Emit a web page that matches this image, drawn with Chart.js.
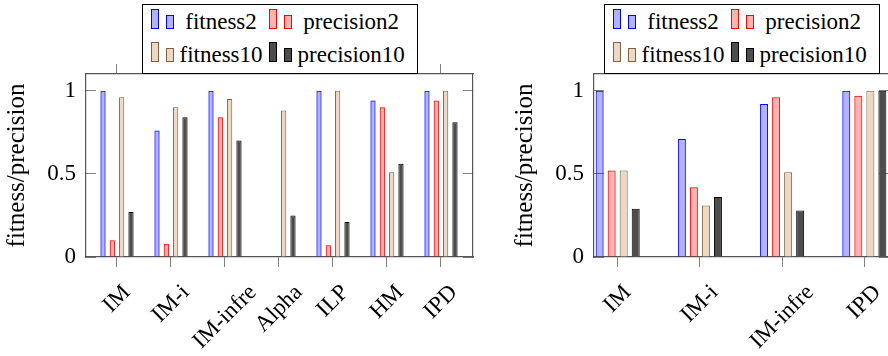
<!DOCTYPE html>
<html>
<head>
<meta charset="utf-8">
<script src="https://cdn.jsdelivr.net/npm/chart.js@4.4.1/dist/chart.umd.min.js"></script>
<style>
  html, body { margin: 0; padding: 0; background: #fff; overflow: hidden; }
  #page { position: relative; width: 888px; height: 356px; overflow: hidden; background: #fff; }
  #page canvas { position: absolute; top: 0; }
  .legend {
    position: absolute;
    display: grid;
    grid-template-columns: auto auto auto auto;
    align-items: baseline;
    column-gap: 6px;
    box-sizing: border-box;
    height: 70px;
    padding: 1.5px 12px 0 8px;
    border: 1px solid #000;
    background: #fff;
    font: 23px 'Liberation Serif', serif;
    line-height: 30px;
    color: #000;
    white-space: nowrap;
  }
  .legend .label { text-align: center; }
  .legend .swatch i {
    display: inline-block;
    width: 6px;
    border: 1px solid;
    vertical-align: baseline;
  }
  .legend .swatch i:first-child { margin-right: 7px; }
</style>
</head>
<body>
<div id="page">
  <canvas id="left" width="480" height="356" style="left:0"></canvas>
  <canvas id="right" width="412" height="356" style="left:480px"></canvas>
</div>
<script>
// left plot: all methods
const namesAll = ['IM', 'IM-i', 'IM-infre', 'Alpha', 'ILP', 'HM', 'IPD'];
const fitness2All = [1.00, 0.76, 1.00, 0.00, 1.00, 0.94, 1.00];
const precision2All = [0.10, 0.08, 0.84, 0.00, 0.07, 0.90, 0.94];
const fitness10All = [0.96, 0.90, 0.95, 0.88, 1.00, 0.51, 1.00];
const precision10All = [0.27, 0.84, 0.70, 0.25, 0.21, 0.56, 0.81];

// right plot: IM variants and IPD
const namesIM = ['IM', 'IM-i', 'IM-infre', 'IPD'];
const fitness2IM = [1.00, 0.71, 0.92, 1.00];
const precision2IM = [0.52, 0.42, 0.96, 0.97];
const fitness10IM = [0.52, 0.31, 0.51, 1.00];
const precision10IM = [0.29, 0.36, 0.28, 1.00];

const yTicks = [0, 0.5, 1];
const yTickLabels = ['0', '0.5', '1'];

Chart.defaults.font.family = "'Liberation Serif', serif";
Chart.defaults.font.size = 23;
Chart.defaults.color = '#000';

const styles = [
  { label: 'fitness2', backgroundColor: 'rgba(0, 0, 255, 0.3)', borderColor: '#0000ff' },
  { label: 'precision2', backgroundColor: 'rgba(255, 0, 0, 0.3)', borderColor: '#ff0000' },
  { label: 'fitness10', backgroundColor: '#ebd9c6', borderColor: '#7f5f3f' },
  { label: 'precision10', backgroundColor: '#4d4d4d', borderColor: '#000000' }
];

const frame = { display: true, color: '#555', width: 1.2 };
const tickGrid = (len) => ({
  offset: false, drawOnChartArea: false, drawTicks: true,
  tickLength: len, tickColor: '#808080', tickWidth: 1
});

// x labels rotated 45deg, centred under their tick like pgfplots does
function slantedLabels(names) {
  return {
    id: 'slantedLabels',
    afterDraw(chart) {
      const scale = chart.scales.x;
      const ctx = chart.ctx;
      ctx.save();
      ctx.font = "23px 'Liberation Serif', serif";
      ctx.fillStyle = '#000';
      ctx.textAlign = 'center';
      ctx.textBaseline = 'middle';
      scale.ticks.forEach(t => {
        const text = names[t.value];
        const half = ctx.measureText(text).width / 2 * Math.SQRT1_2;
        ctx.save();
        ctx.translate(scale.getPixelForValue(t.value), scale.top + 32 + half);
        ctx.rotate(-Math.PI / 4);
        ctx.fillText(text, 0, 0);
        ctx.restore();
      });
      ctx.restore();
    }
  };
}

function makeChart(id, names, series, o) {
  const indexTicks = s => { s.ticks = names.map((n, i) => ({ value: i })); };
  const valueTicks = s => { s.ticks = yTicks.map(v => ({ value: v })); };
  return new Chart(document.getElementById(id), {
    type: 'bar',
    data: {
      labels: names.map((n, i) => i),
      datasets: series.map((values, k) => ({
        ...styles[k],
        data: values,
        borderWidth: 1,
        categoryPercentage: o.catPct,
        barPercentage: o.barPct
      }))
    },
    options: {
      responsive: false,
      animation: false,
      devicePixelRatio: 1,
      layout: { padding: { top: 64, left: o.padLeft, right: o.padRight, bottom: 0 } },
      plugins: { legend: { display: false }, tooltip: { enabled: false } },
      scales: {
        x: {
          type: 'linear', position: 'bottom', min: o.xMin, max: o.xMax, offset: false,
          afterBuildTicks: indexTicks,
          ticks: { display: false },
          grid: tickGrid(10),
          border: frame,
          afterFit: s => { s.height = 99; }
        },
        xTop: {
          type: 'linear', position: 'top', min: o.xMin, max: o.xMax, offset: false,
          afterBuildTicks: indexTicks,
          ticks: { display: false },
          grid: tickGrid(10),
          border: frame,
          afterFit: s => { s.height = 10; }
        },
        y: {
          type: 'linear', position: 'left', min: 0, max: 1.1,
          afterBuildTicks: valueTicks,
          ticks: { padding: 20, color: '#000', callback: (v, i) => yTickLabels[i] },
          grid: tickGrid(-10),
          border: frame,
          title: {
            display: true, text: 'fitness/precision', color: '#000',
            font: { size: 25 }, padding: { top: 2, bottom: 0 }
          },
          afterFit: s => { s.width = 86; }
        },
        yRight: {
          type: 'linear', position: 'right', min: 0, max: 1.1,
          afterBuildTicks: valueTicks,
          ticks: { display: false },
          grid: tickGrid(-10),
          border: frame,
          afterFit: s => { s.width = 0; }
        }
      }
    },
    plugins: [slantedLabels(names)]
  });
}

function buildLegend(chart, offsetLeft) {
  const box = document.createElement('div');
  box.className = 'legend';
  chart.data.datasets.forEach(ds => {
    const sw = document.createElement('span');
    sw.className = 'swatch';
    [20, 14].forEach(h => {
      const bar = document.createElement('i');
      bar.style.height = (h - 2) + 'px';
      bar.style.background = ds.backgroundColor;
      bar.style.borderColor = ds.borderColor;
      sw.appendChild(bar);
    });
    const txt = document.createElement('span');
    txt.className = 'label';
    txt.textContent = ds.label;
    box.append(sw, txt);
  });
  document.getElementById('page').appendChild(box);
  const area = chart.chartArea;
  box.style.left = (offsetLeft + (area.left + area.right) / 2 - box.offsetWidth / 2) + 'px';
  box.style.top = (area.top - box.offsetHeight) + 'px';
}

const leftChart = makeChart('left', namesAll,
  [fitness2All, precision2All, fitness10All, precision10All],
  { xMin: -0.574, xMax: 6.593, catPct: 0.691, barPct: 0.557, padLeft: 0, padRight: 7 });

const rightChart = makeChart('right', namesIM,
  [fitness2IM, precision2IM, fitness10IM, precision10IM],
  { xMin: -0.288, xMax: 3.30, catPct: 0.585, barPct: 0.665, padLeft: 28, padRight: 3 });

buildLegend(leftChart, 0);
buildLegend(rightChart, 480);
</script>
</body>
</html>
